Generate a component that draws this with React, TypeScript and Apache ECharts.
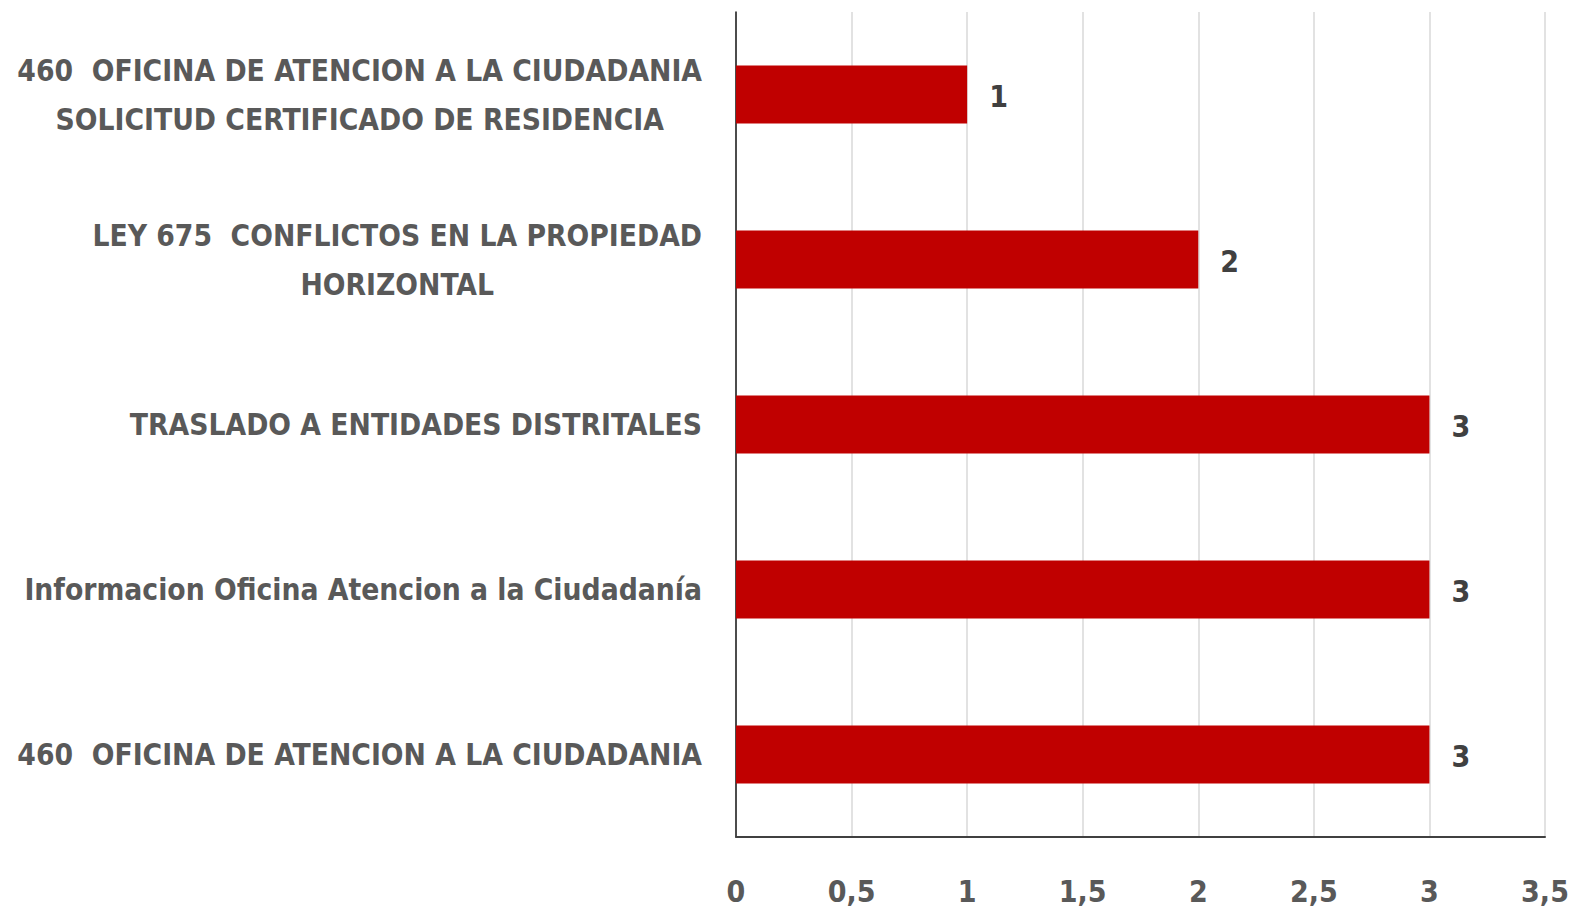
import React, { useEffect, useRef } from "react";
import * as echarts from "echarts";

const categories = [
  "460  OFICINA DE ATENCION A LA CIUDADANIA\nSOLICITUD CERTIFICADO DE RESIDENCIA",
  "LEY 675  CONFLICTOS EN LA PROPIEDAD\nHORIZONTAL",
  "TRASLADO A ENTIDADES DISTRITALES",
  "Informacion Oficina Atencion a la Ciudadanía",
  "460  OFICINA DE ATENCION A LA CIUDADANIA",
];
const values = [1, 2, 3, 3, 3];
const xMin = 0;
const xMax = 3.5;
const xInterval = 0.5;

const FONT = "'Liberation Sans Narrow', 'DejaVu Sans Condensed', 'Open Sans', sans-serif";

export default function App() {
  const ref = useRef<HTMLDivElement>(null);
  useEffect(() => {
    document.body.style.margin = "0";
    const chart = echarts.init(ref.current!, null, { renderer: "svg" });
    chart.setOption({
      animation: false,
      backgroundColor: "#ffffff",
      grid: { left: 736, right: 31, top: 12, bottom: 72, containLabel: false },
      xAxis: {
        type: "value",
        min: xMin,
        max: xMax,
        interval: xInterval,
        axisLine: { show: true, lineStyle: { color: "#404040", width: 2 } },
        axisTick: { show: false },
        splitLine: { show: true, lineStyle: { color: "#d9d9d9", width: 1.5 } },
        axisLabel: {
          margin: 39,
          fontSize: 30,
          fontWeight: "bold",
          fontFamily: FONT,
          color: "#595959",
          formatter: (v: number) => String(v).replace(".", ","),
        },
      },
      yAxis: {
        type: "category",
        data: categories,
        inverse: true,
        axisLine: { show: true, lineStyle: { color: "#1a1a1a", width: 1.5 } },
        axisTick: { show: false },
        splitLine: { show: false },
        axisLabel: {
          margin: 34,
          align: "right",
          formatter: (v: string) =>
            v
              .split("\n")
              .map((l) => `{c|${l}}`)
              .join("\n"),
          rich: {
            c: {
              align: "center",
              fontSize: 29.7,
              lineHeight: 49,
              fontWeight: "bold",
              fontFamily: FONT,
              color: "#595959",
            },
          },
        },
      },
      series: [
        {
          type: "bar",
          data: values,
          barWidth: 58,
          itemStyle: { color: "#c00000" },
          label: {
            show: true,
            position: "right",
            distance: 22,
            offset: [0, 2],
            fontSize: 30,
            fontWeight: "bold",
            fontFamily: FONT,
            color: "#404040",
          },
        },
      ],
    });
    return () => chart.dispose();
  }, []);
  return <div ref={ref} style={{ width: 1576, height: 909 }} />;
}
